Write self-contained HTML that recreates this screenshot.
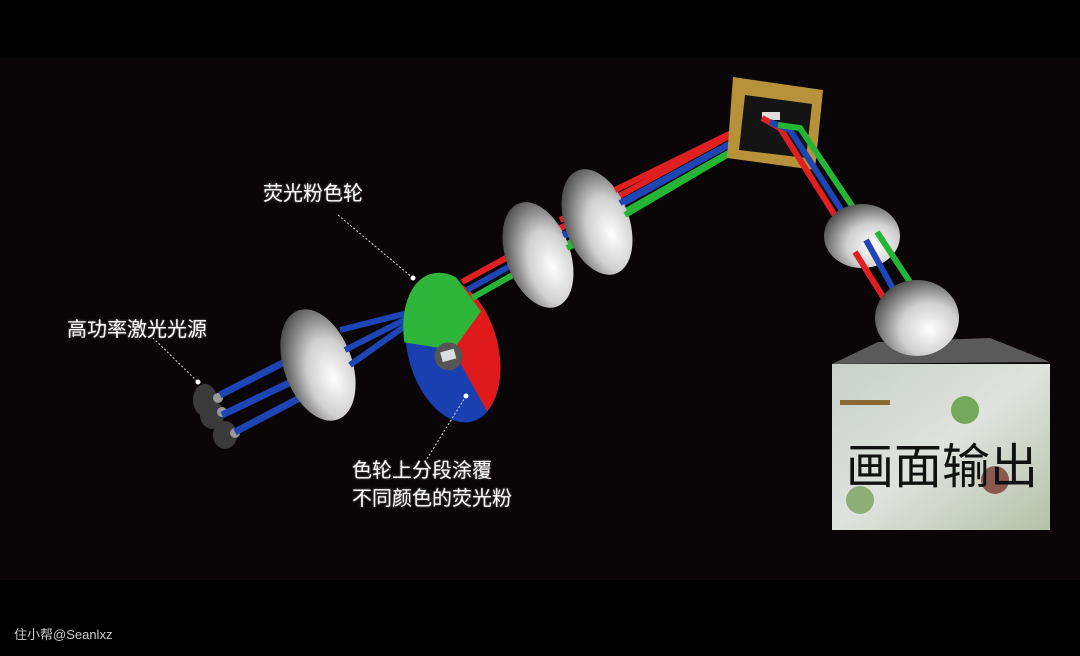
<!DOCTYPE html>
<html><head><meta charset="utf-8"><style>
html,body{margin:0;padding:0;background:#000;}
body{width:1080px;height:656px;position:relative;overflow:hidden;font-family:"Liberation Sans","Noto Sans CJK SC",sans-serif;}
.t{position:absolute;color:#fff;font-size:20px;text-shadow:0 0 2px #888;}
</style></head><body>
<div style="position:absolute;left:0;top:58px;width:1080px;height:522px;background:#0a0507"></div>
<svg width="1080" height="656" style="position:absolute;left:0;top:0">
<defs>
<radialGradient id="lg" cx="0.65" cy="0.65" r="0.7">
<stop offset="0" stop-color="#ffffff"/><stop offset="0.5" stop-color="#d0d0d0"/><stop offset="1" stop-color="#505050"/>
</radialGradient>
<linearGradient id="scr" x1="0" y1="0" x2="1" y2="1">
<stop offset="0" stop-color="#c8d0c8"/><stop offset="0.5" stop-color="#dfe2de"/><stop offset="1" stop-color="#b5c2a8"/>
</linearGradient>
</defs>
<!-- laser source -->
<g fill="#3a3a3a"><ellipse cx="205" cy="400" rx="12" ry="16"/><ellipse cx="212" cy="415" rx="12" ry="14"/><ellipse cx="225" cy="435" rx="12" ry="14"/></g>
<g fill="#999"><circle cx="218" cy="398" r="5"/><circle cx="222" cy="412" r="5"/><circle cx="235" cy="433" r="5"/></g>
<g stroke="#1d45b5" stroke-width="7" fill="none">
<line x1="220" y1="395" x2="312" y2="348"/><line x1="222" y1="415" x2="312" y2="372"/><line x1="235" y1="432" x2="330" y2="382"/>
</g>
<ellipse cx="318" cy="365" rx="34" ry="58" transform="rotate(-20 318 365)" fill="url(#lg)"/>
<g stroke="#1d45b5" stroke-width="6" fill="none">
<line x1="340" y1="330" x2="420" y2="310"/><line x1="345" y1="350" x2="420" y2="312"/><line x1="350" y1="365" x2="422" y2="314"/>
</g>
<g transform="rotate(-15 453 350)">
<ellipse cx="453" cy="350" rx="45" ry="74" fill="#1a3fb0"/>
<path d="M453 350 L453 276 A45 74 0 0 1 498 350 Z" fill="#e01a1a"/>
<path d="M453 350 L498 350 A45 74 0 0 1 470 418 Z" fill="#e01a1a"/>
<path d="M453 350 L408 330 A45 74 0 0 1 475 281 L490 320 Z" fill="#2db63a"/>
<circle cx="447" cy="355" r="14" fill="#555"/><rect x="440" y="349" width="14" height="10" fill="#ddd"/>
</g>
<g stroke-width="6" fill="none">
<polyline stroke="#e02020" points="462,282 762,118"/>
<polyline stroke="#1d45b5" points="467,290 770,122"/>
<polyline stroke="#25b535" points="472,298 778,125"/>
</g>
<ellipse cx="538" cy="255" rx="32" ry="55" transform="rotate(-20 538 255)" fill="url(#lg)"/>
<g stroke-width="6"><line x1="560" y1="220" x2="595" y2="205" stroke="#e02020"/><line x1="563" y1="235" x2="598" y2="218" stroke="#1d45b5"/><line x1="567" y1="248" x2="600" y2="232" stroke="#25b535"/></g>
<ellipse cx="597" cy="222" rx="32" ry="55" transform="rotate(-20 597 222)" fill="url(#lg)"/>
<g stroke-width="6"><line x1="615" y1="190" x2="762" y2="118" stroke="#e02020"/><line x1="620" y1="203" x2="770" y2="122" stroke="#1d45b5"/><line x1="625" y1="215" x2="778" y2="125" stroke="#25b535"/></g>
<polygon points="733,77 823,90 815,170 727,158" fill="#b8923a"/>
<polygon points="745,95 812,104 806,158 739,150" fill="#141414"/>
<rect x="762" y="112" width="18" height="8" fill="#ddd"/>
<g stroke-width="6" fill="none">
<polyline stroke="#e02020" points="762,118 780,128 868,268"/>
<polyline stroke="#1d45b5" points="770,122 790,130 875,262"/>
<polyline stroke="#25b535" points="778,125 800,128 885,255"/>
</g>
<ellipse cx="862" cy="236" rx="38" ry="32" fill="url(#lg)"/>
<g stroke-width="6"><line x1="855" y1="252" x2="885" y2="300" stroke="#e02020"/><line x1="866" y1="240" x2="895" y2="292" stroke="#1d45b5"/><line x1="877" y1="232" x2="910" y2="282" stroke="#25b535"/></g>
<polygon points="878,342 990,338 1050,362 832,364" fill="#5a5a5a"/>
<ellipse cx="917" cy="318" rx="42" ry="38" fill="url(#lg)"/>
<rect x="832" y="364" width="218" height="166" fill="url(#scr)"/>
<circle cx="965" cy="410" r="14" fill="#5a9a3a" opacity="0.8"/>
<circle cx="995" cy="480" r="14" fill="#7a3a30" opacity="0.8"/>
<circle cx="860" cy="500" r="14" fill="#6a9a4a" opacity="0.7"/>
<rect x="840" y="400" width="50" height="5" fill="#8a6a30"/>
<g stroke="#ddd" stroke-width="1" stroke-dasharray="2,2" fill="none">
<line x1="338" y1="215" x2="413" y2="278"/>
<line x1="150" y1="335" x2="198" y2="382"/>
<line x1="466" y1="396" x2="425" y2="462"/>
</g>
<g fill="#fff"><circle cx="413" cy="278" r="2.5"/><circle cx="198" cy="382" r="2.5"/><circle cx="466" cy="396" r="2.5"/></g>
<text x="846" y="483" font-size="48" fill="#111" font-family="Liberation Sans,Noto Sans CJK SC,sans-serif">画面输出</text>
</svg>
<div class="t" style="left:263px;top:177px;">荧光粉色轮</div>
<div class="t" style="left:67px;top:313px;">高功率激光光源</div>
<div class="t" style="left:352px;top:457px;line-height:28px;">色轮上分段涂覆<br>不同颜色的荧光粉</div>
<div style="position:absolute;left:14px;top:624px;color:#ccc;font-size:13px;">住小帮@Seanlxz</div>
</body></html>
